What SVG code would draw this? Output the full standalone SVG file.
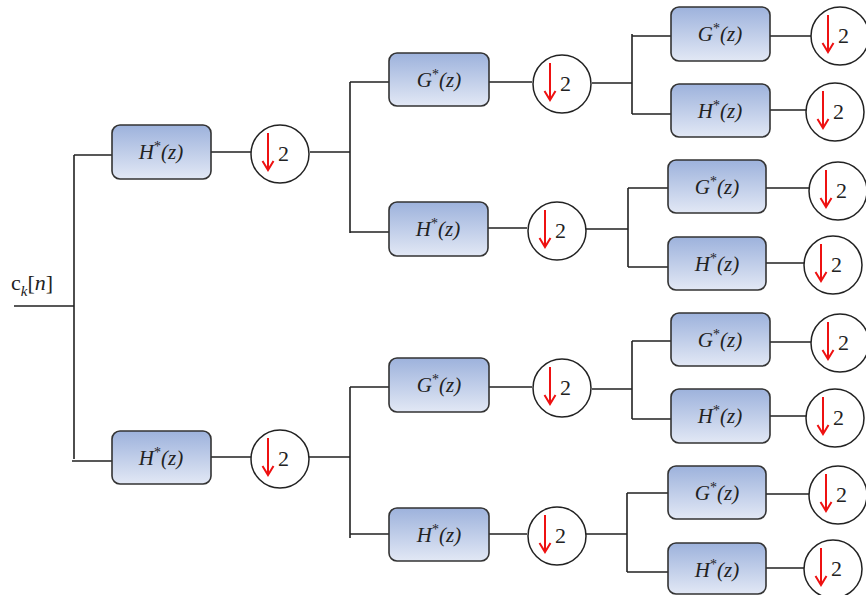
<svg xmlns="http://www.w3.org/2000/svg" width="866" height="595" viewBox="0 0 866 595">
<defs>
<linearGradient id="bg" x1="0" y1="0" x2="0" y2="1">
<stop offset="0" stop-color="#9db2dc"/>
<stop offset="1" stop-color="#e2e8f5"/>
</linearGradient>
<g id="down2">
<circle cx="0" cy="0" r="29" fill="#fff" stroke="#222" stroke-width="1.5"/>
<path d="M-12,-21 V15 M-17.5,7 L-12,16 L-6.5,7" fill="none" stroke="#ee1111" stroke-width="2"/>
<text x="-2" y="7" font-family="'Liberation Serif','Times New Roman',serif" font-size="22" fill="#222">2</text>
</g>
</defs>
<style>
.box{fill:url(#bg);stroke:#333;stroke-width:1.6}
.w{stroke:#222;stroke-width:1.6;fill:none}
.lbl{font-family:'Liberation Serif','Times New Roman',serif;font-style:italic;font-size:21px;fill:#222;text-anchor:middle}
.sup{font-style:normal;font-size:14px}
.in{font-family:'Liberation Serif','Times New Roman',serif;font-size:22px;fill:#222}
</style>

<g id="connectors" class="w">
<path d="M14,306 H74 M74,155 V459 M74,155 H112 M72,461 H112"/>
<path d="M211,152 H251 M211,457 H251"/>
<path d="M310,152 H350 M350,82 V233 M350,82 H389 M350,232 H389"/>
<path d="M309,457 H350 M350,387 V538 M350,387 H389 M350,534 H389"/>
<path d="M489,82 H532 M488,228 H527 M489,387 H532 M489,534 H527"/>
<path d="M592,83 H632 M632,34 V114 M632,36 H671 M632,114 H671"/>
<path d="M586,229 H628 M628,188 V267 M628,188 H668 M628,267 H668"/>
<path d="M592,389 H632 M632,341 V419 M632,341 H671 M632,419 H671"/>
<path d="M586,534 H627 M627,493 V572 M627,493 H668 M627,572 H668"/>
<path d="M770,36 H812 M770,110 H807 M766,188 H810 M766,263 H805"/>
<path d="M770,342 H812 M770,416 H807 M766,494 H810 M766,568 H805"/>
</g>

<g id="input">
<text x="11" y="290" class="in">c<tspan font-style="italic" font-size="15" dy="6">k</tspan><tspan dy="-6">[</tspan><tspan font-style="italic">n</tspan>]</text>
</g>

<g id="h1a"><rect class="box" x="112" y="125" width="99" height="54" rx="8"/><text class="lbl" x="161" y="159">H<tspan class="sup" dy="-8">*</tspan><tspan dy="8">(z)</tspan></text></g>
<g id="d1a"><use href="#down2" x="280" y="154"/></g>
<g id="h1b"><rect class="box" x="112" y="431" width="99" height="53" rx="8"/><text class="lbl" x="161" y="465">H<tspan class="sup" dy="-8">*</tspan><tspan dy="8">(z)</tspan></text></g>
<g id="d1b"><use href="#down2" x="280" y="459"/></g>

<g id="g2a"><rect class="box" x="389" y="53" width="100" height="53" rx="8"/><text class="lbl" x="439" y="87">G<tspan class="sup" dy="-8">*</tspan><tspan dy="8">(z)</tspan></text></g>
<g id="d2a"><use href="#down2" x="562" y="84"/></g>
<g id="h2a"><rect class="box" x="389" y="202" width="99" height="54" rx="8"/><text class="lbl" x="438" y="236">H<tspan class="sup" dy="-8">*</tspan><tspan dy="8">(z)</tspan></text></g>
<g id="d2b"><use href="#down2" x="557" y="231"/></g>
<g id="g2b"><rect class="box" x="389" y="358" width="100" height="54" rx="8"/><text class="lbl" x="439" y="392">G<tspan class="sup" dy="-8">*</tspan><tspan dy="8">(z)</tspan></text></g>
<g id="d2c"><use href="#down2" x="562" y="388"/></g>
<g id="h2b"><rect class="box" x="389" y="508" width="100" height="53" rx="8"/><text class="lbl" x="439" y="542">H<tspan class="sup" dy="-8">*</tspan><tspan dy="8">(z)</tspan></text></g>
<g id="d2d"><use href="#down2" x="557" y="536"/></g>

<g id="g3a"><rect class="box" x="671" y="7" width="99" height="54" rx="8"/><text class="lbl" x="720" y="41">G<tspan class="sup" dy="-8">*</tspan><tspan dy="8">(z)</tspan></text></g>
<g id="d3a"><use href="#down2" x="840" y="36"/></g>
<g id="h3a"><rect class="box" x="671" y="84" width="99" height="53" rx="8"/><text class="lbl" x="720" y="118">H<tspan class="sup" dy="-8">*</tspan><tspan dy="8">(z)</tspan></text></g>
<g id="d3b"><use href="#down2" x="835" y="112"/></g>
<g id="g3b"><rect class="box" x="668" y="160" width="98" height="53" rx="8"/><text class="lbl" x="717" y="194">G<tspan class="sup" dy="-8">*</tspan><tspan dy="8">(z)</tspan></text></g>
<g id="d3c"><use href="#down2" x="838" y="191"/></g>
<g id="h3b"><rect class="box" x="668" y="237" width="98" height="53" rx="8"/><text class="lbl" x="717" y="271">H<tspan class="sup" dy="-8">*</tspan><tspan dy="8">(z)</tspan></text></g>
<g id="d3d"><use href="#down2" x="833" y="265"/></g>
<g id="g3c"><rect class="box" x="671" y="313" width="99" height="53" rx="8"/><text class="lbl" x="720" y="347">G<tspan class="sup" dy="-8">*</tspan><tspan dy="8">(z)</tspan></text></g>
<g id="d3e"><use href="#down2" x="840" y="343"/></g>
<g id="h3c"><rect class="box" x="671" y="389" width="99" height="54" rx="8"/><text class="lbl" x="720" y="423">H<tspan class="sup" dy="-8">*</tspan><tspan dy="8">(z)</tspan></text></g>
<g id="d3f"><use href="#down2" x="835" y="418"/></g>
<g id="g3d"><rect class="box" x="668" y="466" width="98" height="53" rx="8"/><text class="lbl" x="717" y="500">G<tspan class="sup" dy="-8">*</tspan><tspan dy="8">(z)</tspan></text></g>
<g id="d3g"><use href="#down2" x="838" y="495"/></g>
<g id="h3d"><rect class="box" x="668" y="543" width="98" height="51" rx="8"/><text class="lbl" x="717" y="577">H<tspan class="sup" dy="-8">*</tspan><tspan dy="8">(z)</tspan></text></g>
<g id="d3h"><use href="#down2" x="833" y="569"/></g>
</svg>
